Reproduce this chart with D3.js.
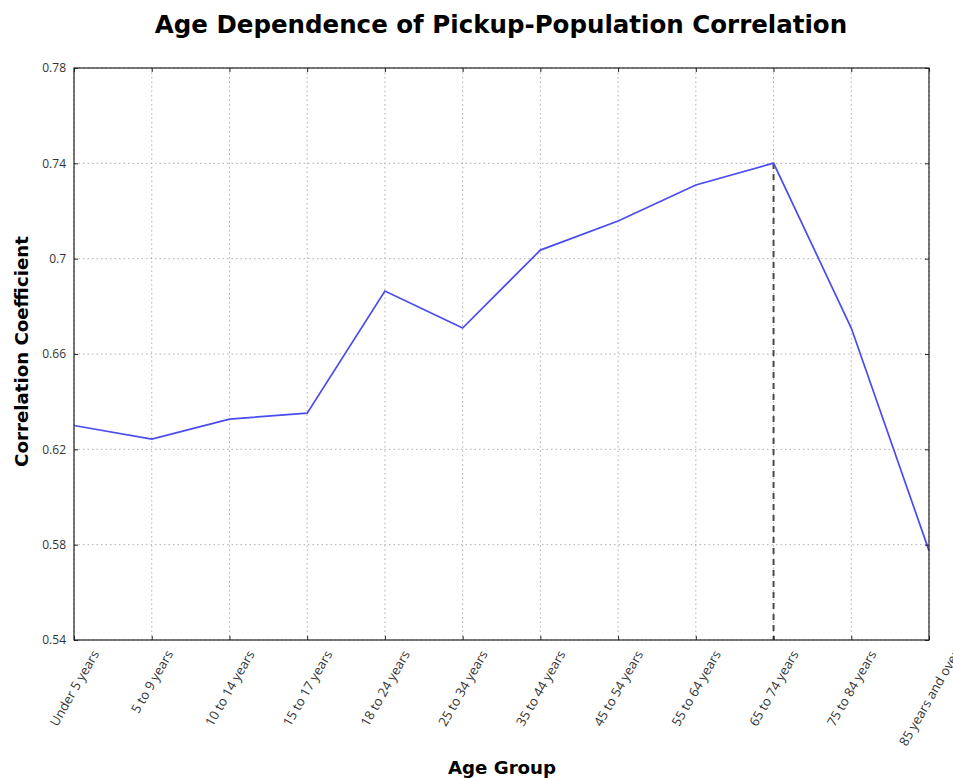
<!DOCTYPE html>
<html><head><meta charset="utf-8">
<script src="https://cdn.jsdelivr.net/npm/d3@7"></script>
<style>body{margin:0;background:#fff}svg{display:block}</style>
</head><body>
<svg id="c" width="953" height="778"></svg>
<script>
const categories = ["Under 5 years","5 to 9 years","10 to 14 years","15 to 17 years","18 to 24 years","25 to 34 years","35 to 44 years","45 to 54 years","55 to 64 years","65 to 74 years","75 to 84 years","85 years and over"];
const correlation = [0.630, 0.6243, 0.6327, 0.6352, 0.6864, 0.6709, 0.7036, 0.7158, 0.7309, 0.7401, 0.6709, 0.5775];
const yTicks = [0.54, 0.58, 0.62, 0.66, 0.70, 0.74, 0.78];
const yTickLabels = ["0.54","0.58","0.62","0.66","0.7","0.74","0.78"];
const peakCategory = "65 to 74 years";
const peakValue = 0.7401;

const svg = d3.select("#c");
const m = {l:74, r:929, t:68, b:640};
const x = d3.scalePoint().domain(categories).range([m.l, m.r]);
const y = d3.scaleLinear().domain([0.54, 0.78]).range([m.b, m.t]);
const tickFont = "'Open Sans', 'Noto Sans', sans-serif";
const boldFont = "'DejaVu Sans', sans-serif";

// grid
const g = svg.append("g");
g.selectAll(".gx").data(categories).join("line")
  .attr("x1", d=>x(d)).attr("x2", d=>x(d)).attr("y1", m.t).attr("y2", m.b)
  .attr("stroke", "#b0b0b0").attr("stroke-width", 1).attr("stroke-dasharray", "1.5,3");
g.selectAll(".gy").data(yTicks).join("line")
  .attr("x1", m.l).attr("x2", m.r).attr("y1", d=>y(d)).attr("y2", d=>y(d))
  .attr("stroke", "#b0b0b0").attr("stroke-width", 1).attr("stroke-dasharray", "1.5,3");

// peak dashed line
svg.append("line")
  .attr("x1", x(peakCategory)).attr("x2", x(peakCategory))
  .attr("y1", y(peakValue)).attr("y2", m.b)
  .attr("stroke", "#4a4a4a").attr("stroke-width", 2).attr("stroke-dasharray", "6,5");

// data line
svg.append("path").datum(correlation)
  .attr("d", d3.line().x((d,i)=>x(categories[i])).y(d=>y(d)))
  .attr("fill", "none").attr("stroke", "#4b4bf0").attr("stroke-width", 1.7);

// axes with inward ticks
const yL = d3.axisLeft(y).tickValues(yTicks).tickFormat((d,i)=>yTickLabels[i]).tickSizeInner(-4).tickSizeOuter(0).tickPadding(8);
const yR = d3.axisRight(y).tickValues(yTicks).tickFormat("").tickSizeInner(-4).tickSizeOuter(0);
const xB = d3.axisBottom(x).tickFormat("").tickSizeInner(-4).tickSizeOuter(0);
const xT = d3.axisTop(x).tickFormat("").tickSizeInner(-4).tickSizeOuter(0);
const ay = svg.append("g").attr("transform", `translate(${m.l},0)`).call(yL);
svg.append("g").attr("transform", `translate(${m.r},0)`).call(yR);
svg.append("g").attr("transform", `translate(0,${m.b})`).call(xB);
svg.append("g").attr("transform", `translate(0,${m.t})`).call(xT);
svg.selectAll(".domain").remove();
svg.selectAll(".tick line").attr("stroke", "#222");
ay.selectAll("text").attr("font-family", tickFont).attr("font-size", 12).attr("fill", "#333");

// frame
svg.append("rect").attr("x", m.l).attr("y", m.t).attr("width", m.r-m.l).attr("height", m.b-m.t)
  .attr("fill", "none").attr("stroke", "#222").attr("stroke-width", 1.2);

// rotated x labels, bounding box centered on tick
const xl = svg.append("g");
categories.forEach(c => {
  const t = xl.append("text").text(c)
    .attr("font-family", tickFont).attr("font-size", 13).attr("fill", "#333")
    .attr("text-anchor", "middle").attr("dominant-baseline", "central");
  const L = t.node().getComputedTextLength();
  const h = 13;
  const bh = L*Math.sin(Math.PI/3) + h*0.5;
  const cx = x(c), cy = m.b + 8 + bh/2;
  t.attr("transform", `translate(${cx},${cy}) rotate(-60)`);
});

// titles
svg.append("text").text("Age Dependence of Pickup-Population Correlation")
  .attr("x", 501).attr("y", 33).attr("text-anchor", "middle")
  .attr("font-family", boldFont).attr("font-weight", "bold").attr("font-size", 24.5).attr("fill", "#000");
svg.append("text").text("Age Group")
  .attr("x", 502).attr("y", 774).attr("text-anchor", "middle")
  .attr("font-family", boldFont).attr("font-weight", "bold").attr("font-size", 18.2).attr("fill", "#000");
svg.append("text").text("Correlation Coefficient")
  .attr("transform", `translate(28,351.5) rotate(-90)`).attr("text-anchor", "middle")
  .attr("font-family", boldFont).attr("font-weight", "bold").attr("font-size", 18.2).attr("fill", "#000");
</script>
</body></html>
